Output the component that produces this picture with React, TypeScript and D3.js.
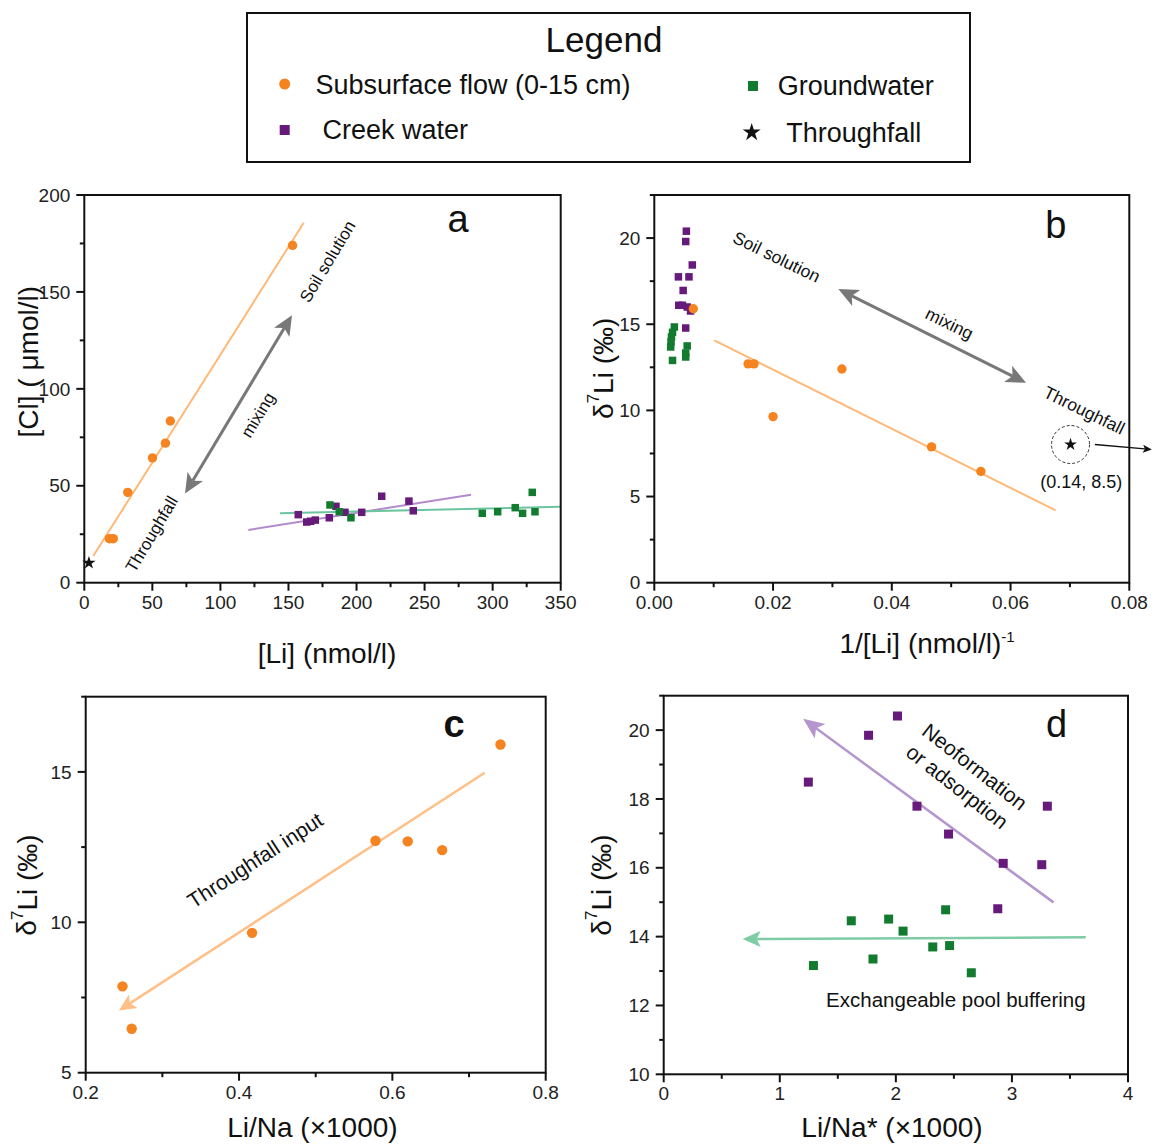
import React from 'react';
import * as d3 from 'd3';

const FONT = "'Liberation Sans', Arial, Helvetica, sans-serif";

// ---------------- colours ----------------
const ORANGE = '#F5831F';
const PURPLE = '#661A7A';
const GREEN = '#137B2F';
const ORANGE_LIGHT = '#FFB877';
const PURPLE_LIGHT = '#B38ACB';
const GREEN_LIGHT = '#6CC59F';
const GRAY = '#787878';

// ---------------- panel a data ----------------
const aSubLi = [153, 63.2, 59.6, 50.1, 31.9, 18.4, 21.3];
const aSubCl = [174, 83.4, 72, 64.4, 46.6, 22.7, 22.7];
const aCreekLi = [157.2, 163.4, 166.3, 169.7, 180, 184.9, 191.5, 203.8, 218.5, 238.5, 241.7];
const aCreekCl = [35.1, 31.3, 31.7, 32.3, 33.5, 39.4, 36.3, 36.3, 44.6, 42.1, 37.1];
const aGwLi = [180.5, 187.3, 195.9, 292.4, 303.7, 316.6, 322, 329.1, 331.1];
const aGwCl = [40.1, 36.6, 33.5, 35.8, 36.6, 38.7, 35.8, 46.6, 36.6];
const aTfLi = [3.4];
const aTfCl = [10.2];
const aSubFitX = [6.6, 161.2];
const aSubFitY = [13.8, 185.7];
const aCreekFitX = [120.5, 284.1];
const aCreekFitY = [27.2, 45.4];
const aGwFitX = [143.8, 349.5];
const aGwFitY = [35.8, 39.2];
const aMixX = [74, 152.6];
const aMixY = [46, 138];
const aXTicks = [0, 50, 100, 150, 200, 250, 300, 350];
const aYTicks = [0, 50, 100, 150, 200];

// ---------------- panel b data ----------------
const bSubX = [0.00657, 0.0158, 0.0168, 0.0316, 0.02, 0.0467, 0.055];
const bSubY = [15.9, 12.7, 12.7, 12.4, 9.64, 7.88, 6.46];
const bCreekX = [0.0054, 0.00529, 0.0064, 0.00406, 0.00584, 0.00486, 0.00412, 0.00473, 0.00554, 0.0061, 0.00529];
const bCreekY = [20.4, 19.8, 18.44, 17.75, 17.75, 16.96, 16.1, 16.1, 16.0, 15.77, 14.78];
const bGwX = [0.00338, 0.00307, 0.00289, 0.00282, 0.00276, 0.00307, 0.00554, 0.00529, 0.00529];
const bGwY = [14.84, 14.53, 14.26, 13.97, 13.68, 12.9, 13.74, 13.33, 13.1];
const bTfX = [0.0701];
const bTfY = [8.02];
const bSubFitX = [0.0101, 0.0676];
const bSubFitY = [14.06, 4.2];
const bMixX = [0.031, 0.0626];
const bMixY = [17.04, 11.6];
const bOutArrowX = [0.0742, 0.0838];
const bOutArrowY = [8.02, 7.73];
const bXTicks = [0, 0.02, 0.04, 0.06, 0.08];
const bYTicks = [0, 5, 10, 15, 20];

// ---------------- panel c data ----------------
const cX = [0.741, 0.578, 0.62, 0.665, 0.417, 0.248, 0.26];
const cY = [15.91, 12.71, 12.69, 12.4, 9.65, 7.87, 6.46];
const cArrowX = [0.7204, 0.2434];
const cArrowY = [14.97, 7.07];
const cXTicks = [0.2, 0.4, 0.6, 0.8];
const cYTicks = [5, 10, 15];

// ---------------- panel d data ----------------
const dCreekX = [1.246, 1.765, 2.014, 2.182, 2.454, 2.925, 3.257, 3.305, 2.878];
const dCreekY = [18.49, 19.85, 20.41, 17.79, 16.98, 16.13, 16.09, 17.79, 14.81];
const dGwX = [1.29, 1.616, 1.803, 1.938, 2.062, 2.318, 2.429, 2.463, 2.65];
const dGwY = [13.16, 14.46, 13.35, 14.51, 14.16, 13.7, 14.78, 13.74, 12.95];
const dPurpleArrowX = [3.358, 1.2016];
const dPurpleArrowY = [14.995, 20.33];
const dGreenArrowX = [3.636, 0.68];
const dGreenArrowY = [13.98, 13.93];
const dXTicks = [0, 1, 2, 3, 4];
const dYTicks = [10, 12, 14, 16, 18, 20];

type Frame = { l: number; r: number; t: number; b: number };

const FA: Frame = { l: 84.3, r: 560.7, t: 195, b: 582.7 };
const FB: Frame = { l: 654.3, r: 1129.3, t: 195, b: 582.7 };
const FC: Frame = { l: 85.7, r: 545.7, t: 696.7, b: 1072.7 };
const FD: Frame = { l: 663.7, r: 1128, t: 695.7, b: 1074.3 };

function minorTicks(start: number, stop: number, step: number, major: number[]) {
  return d3
    .range(0, Math.round((stop - start) / step) + 1)
    .map((i) => +(start + i * step).toFixed(6))
    .filter((v) => !major.some((m) => Math.abs(m - v) < step * 1e-3));
}

function arrowHead(x1: number, y1: number, x2: number, y2: number, L: number, w: number, ind: number) {
  const a = Math.atan2(y2 - y1, x2 - x1);
  const ux = Math.cos(a), uy = Math.sin(a);
  const px = -uy, py = ux;
  const bx = x2 - L * ux, by = y2 - L * uy;
  const nx = x2 - (L - ind) * ux, ny = y2 - (L - ind) * uy;
  return `M${x2},${y2}L${bx + w * px},${by + w * py}L${nx},${ny}L${bx - w * px},${by - w * py}Z`;
}

function shorten(x1: number, y1: number, x2: number, y2: number, d: number) {
  const len = Math.hypot(x2 - x1, y2 - y1);
  return [x2 - ((x2 - x1) / len) * d, y2 - ((y2 - y1) / len) * d];
}

function Arrow({ x1, y1, x2, y2, color, width, L, w, ind, double }: any) {
  const [ex, ey] = shorten(x1, y1, x2, y2, L - ind);
  const [sx, sy] = double ? shorten(x2, y2, x1, y1, L - ind) : [x1, y1];
  return (
    <g>
      <line x1={sx} y1={sy} x2={ex} y2={ey} stroke={color} strokeWidth={width} />
      <path d={arrowHead(x1, y1, x2, y2, L, w, ind)} fill={color} />
      {double && <path d={arrowHead(x2, y2, x1, y1, L, w, ind)} fill={color} />}
    </g>
  );
}

function Axes({ fr, xs, ys, xMajor, xMinor, yMajor, yMinor, xFmt, yFmt }: any) {
  return (
    <g fontFamily={FONT} fontSize={19} fill="#222">
      {xMajor.map((v: number) => (
        <g key={'xM' + v}>
          <line x1={xs(v)} x2={xs(v)} y1={fr.b} y2={fr.b + 8} stroke="#111" strokeWidth={2} />
          <text x={xs(v)} y={fr.b + 26} textAnchor="middle">{xFmt(v)}</text>
        </g>
      ))}
      {xMinor.map((v: number) => (
        <line key={'xm' + v} x1={xs(v)} x2={xs(v)} y1={fr.b} y2={fr.b + 4.5} stroke="#111" strokeWidth={2} />
      ))}
      {yMajor.map((v: number) => (
        <g key={'yM' + v}>
          <line x1={fr.l - 8} x2={fr.l} y1={ys(v)} y2={ys(v)} stroke="#111" strokeWidth={2} />
          <text x={fr.l - 14} y={ys(v)} dy="0.35em" textAnchor="end">{yFmt(v)}</text>
        </g>
      ))}
      {yMinor.map((v: number) => (
        <line key={'ym' + v} x1={fr.l - 4.5} x2={fr.l} y1={ys(v)} y2={ys(v)} stroke="#111" strokeWidth={2} />
      ))}
      <rect x={fr.l} y={fr.t} width={fr.r - fr.l} height={fr.b - fr.t} fill="none" stroke="#111" strokeWidth={2} />
    </g>
  );
}

function RotText({ x, y, angle, size, children, color = '#111' }: any) {
  return (
    <text
      transform={`translate(${x},${y}) rotate(${angle})`}
      textAnchor="middle"
      dominantBaseline="central"
      fontFamily={FONT}
      fontSize={size}
      fill={color}
    >
      {children}
    </text>
  );
}

const starPath = (size: number) => d3.symbol().type(d3.symbolStar).size(size)() as string;

function Squares({ xs, ys, X, Y, color, s }: any) {
  return (
    <g>
      {X.map((v: number, i: number) => (
        <rect key={i} x={xs(v) - s / 2} y={ys(Y[i]) - s / 2} width={s} height={s} fill={color} />
      ))}
    </g>
  );
}
function Circles({ xs, ys, X, Y, color, r }: any) {
  return (
    <g>
      {X.map((v: number, i: number) => (
        <circle key={i} cx={xs(v)} cy={ys(Y[i])} r={r} fill={color} />
      ))}
    </g>
  );
}

function PanelA() {
  const fr = FA;
  const xs = d3.scaleLinear().domain([0, 350]).range([fr.l, fr.r]);
  const ys = d3.scaleLinear().domain([0, 200]).range([fr.b, fr.t]);
  return (
    <g>
      <line x1={xs(aSubFitX[0])} y1={ys(aSubFitY[0])} x2={xs(aSubFitX[1])} y2={ys(aSubFitY[1])} stroke={ORANGE_LIGHT} strokeWidth={2} />
      <line x1={xs(aCreekFitX[0])} y1={ys(aCreekFitY[0])} x2={xs(aCreekFitX[1])} y2={ys(aCreekFitY[1])} stroke={PURPLE_LIGHT} strokeWidth={2} />
      <line x1={xs(aGwFitX[0])} y1={ys(aGwFitY[0])} x2={xs(aGwFitX[1])} y2={ys(aGwFitY[1])} stroke={GREEN_LIGHT} strokeWidth={2} />
      <Arrow x1={xs(aMixX[0])} y1={ys(aMixY[0])} x2={xs(aMixX[1])} y2={ys(aMixY[1])} color={GRAY} width={3} L={20} w={9} ind={5} double />
      <Circles xs={xs} ys={ys} X={aSubLi} Y={aSubCl} color={ORANGE} r={4.7} />
      <Squares xs={xs} ys={ys} X={aCreekLi} Y={aCreekCl} color={PURPLE} s={7.5} />
      <Squares xs={xs} ys={ys} X={aGwLi} Y={aGwCl} color={GREEN} s={7.5} />
      {aTfLi.map((v, i) => (
        <path key={i} d={starPath(55)} transform={`translate(${xs(v)},${ys(aTfCl[i])})`} fill="#111" />
      ))}
      <RotText x={xs(178.9)} y={ys(165.6)} angle={-59} size={17}>Soil solution</RotText>
      <RotText x={xs(127.8)} y={ys(86.4)} angle={-59} size={17}>mixing</RotText>
      <RotText x={xs(49.7)} y={ys(25)} angle={-59} size={17}>Throughfall</RotText>
      <Axes fr={fr} xs={xs} ys={ys} xMajor={aXTicks} xMinor={minorTicks(0, 350, 25, aXTicks)} yMajor={aYTicks} yMinor={minorTicks(0, 200, 25, aYTicks)} xFmt={(v: number) => String(v)} yFmt={(v: number) => String(v)} />
      <text x={fr.r - 102.7} y={fr.t + 36.7} textAnchor="middle" fontFamily={FONT} fontSize={38} fill="#111">a</text>
      <text x={327} y={663} textAnchor="middle" fontFamily={FONT} fontSize={28} fill="#111">[Li] (nmol/l)</text>
      <RotText x={28} y={361.7} angle={-90} size={28}>[Cl] ( μmol/l)</RotText>
    </g>
  );
}

function PanelB() {
  const fr = FB;
  const xs = d3.scaleLinear().domain([0, 0.08]).range([fr.l, fr.r]);
  const ys = d3.scaleLinear().domain([0, 22.5]).range([fr.b, fr.t]);
  return (
    <g>
      <line x1={xs(bSubFitX[0])} y1={ys(bSubFitY[0])} x2={xs(bSubFitX[1])} y2={ys(bSubFitY[1])} stroke={ORANGE_LIGHT} strokeWidth={2} />
      <Arrow x1={xs(bMixX[0])} y1={ys(bMixY[0])} x2={xs(bMixX[1])} y2={ys(bMixY[1])} color={GRAY} width={3} L={20} w={9} ind={5} double />
      <Squares xs={xs} ys={ys} X={bCreekX} Y={bCreekY} color={PURPLE} s={7.5} />
      <Squares xs={xs} ys={ys} X={bGwX} Y={bGwY} color={GREEN} s={7.5} />
      <Circles xs={xs} ys={ys} X={bSubX} Y={bSubY} color={ORANGE} r={4.7} />
      {bTfX.map((v, i) => (
        <g key={i}>
          <circle cx={xs(v)} cy={ys(bTfY[i])} r={19} fill="none" stroke="#333" strokeWidth={1} strokeDasharray="3,2" />
          <path d={starPath(50)} transform={`translate(${xs(v)},${ys(bTfY[i])})`} fill="#111" />
        </g>
      ))}
      <Arrow x1={xs(bOutArrowX[0])} y1={ys(bOutArrowY[0])} x2={xs(bOutArrowX[1])} y2={ys(bOutArrowY[1])} color="#111" width={1.3} L={9} w={4} ind={2} />
      <RotText x={xs(0.0206)} y={ys(18.9)} angle={26} size={17.5}>Soil solution</RotText>
      <RotText x={xs(0.0497)} y={ys(15.04)} angle={26} size={17.5}>mixing</RotText>
      <RotText x={xs(0.0724)} y={ys(10.0)} angle={26} size={17.5}>Throughfall</RotText>
      <text x={xs(0.0719)} y={ys(5.89)} dy="0.35em" textAnchor="middle" fontFamily={FONT} fontSize={18} fill="#111">(0.14, 8.5)</text>
      <Axes fr={fr} xs={xs} ys={ys} xMajor={bXTicks} xMinor={minorTicks(0, 0.08, 0.01, bXTicks)} yMajor={bYTicks} yMinor={minorTicks(0, 22.5, 2.5, bYTicks)} xFmt={d3.format('.2f')} yFmt={(v: number) => String(v)} />
      <text x={fr.r - 73.5} y={fr.t + 43} textAnchor="middle" fontFamily={FONT} fontSize={38} fill="#111">b</text>
      <text x={927} y={653.3} textAnchor="middle" fontFamily={FONT} fontSize={28} fill="#111">
        1/[Li] (nmol/l)<tspan dy={-11} fontSize={15}>-1</tspan>
      </text>
      <RotText x={603} y={368.3} angle={-90} size={28}>
        δ<tspan dy={-10} fontSize={17}>7</tspan><tspan dy={10}>Li (‰)</tspan>
      </RotText>
    </g>
  );
}

function PanelC() {
  const fr = FC;
  const xs = d3.scaleLinear().domain([0.2, 0.8]).range([fr.l, fr.r]);
  const ys = d3.scaleLinear().domain([5, 17.5]).range([fr.b, fr.t]);
  return (
    <g>
      <Arrow x1={xs(cArrowX[0])} y1={ys(cArrowY[0])} x2={xs(cArrowX[1])} y2={ys(cArrowY[1])} color="#FFBF86" width={2.5} L={17} w={8} ind={4} />
      <Circles xs={xs} ys={ys} X={cX} Y={cY} color={ORANGE} r={5.2} />
      <RotText x={xs(0.4209)} y={ys(12.07)} angle={-33} size={21}>Throughfall input</RotText>
      <Axes fr={fr} xs={xs} ys={ys} xMajor={cXTicks} xMinor={minorTicks(0.2, 0.8, 0.1, cXTicks)} yMajor={cYTicks} yMinor={minorTicks(5, 17.5, 2.5, cYTicks)} xFmt={d3.format('.1f')} yFmt={(v: number) => String(v)} />
      <text x={fr.r - 91.7} y={fr.t + 40} textAnchor="middle" fontFamily={FONT} fontSize={38} fontWeight={600} fill="#111">c</text>
      <text x={312.4} y={1136.7} textAnchor="middle" fontFamily={FONT} fontSize={28} fill="#111">Li/Na (×1000)</text>
      <RotText x={26.7} y={885} angle={-90} size={28}>
        δ<tspan dy={-10} fontSize={17}>7</tspan><tspan dy={10}>Li (‰)</tspan>
      </RotText>
    </g>
  );
}

function PanelD() {
  const fr = FD;
  const xs = d3.scaleLinear().domain([0, 4]).range([fr.l, fr.r]);
  const ys = d3.scaleLinear().domain([10, 21]).range([fr.b, fr.t]);
  return (
    <g>
      <Arrow x1={xs(dPurpleArrowX[0])} y1={ys(dPurpleArrowY[0])} x2={xs(dPurpleArrowX[1])} y2={ys(dPurpleArrowY[1])} color="#B596CC" width={2.5} L={21} w={9} ind={5} />
      <Arrow x1={xs(dGreenArrowX[0])} y1={ys(dGreenArrowY[0])} x2={xs(dGreenArrowX[1])} y2={ys(dGreenArrowY[1])} color="#7FCBA6" width={2.5} L={18} w={8} ind={4} />
      <Squares xs={xs} ys={ys} X={dCreekX} Y={dCreekY} color={PURPLE} s={9} />
      <Squares xs={xs} ys={ys} X={dGwX} Y={dGwY} color={GREEN} s={9} />
      <RotText x={xs(2.68)} y={ys(18.94)} angle={38} size={21}>Neoformation</RotText>
      <RotText x={xs(2.53)} y={ys(18.36)} angle={38} size={21}>or adsorption</RotText>
      <text x={xs(2.517)} y={ys(12.17)} dy="0.35em" textAnchor="middle" fontFamily={FONT} fontSize={20.5} fill="#111">Exchangeable pool buffering</text>
      <Axes fr={fr} xs={xs} ys={ys} xMajor={dXTicks} xMinor={minorTicks(0, 4, 0.5, dXTicks)} yMajor={dYTicks} yMinor={minorTicks(10, 21, 1, dYTicks)} xFmt={(v: number) => String(v)} yFmt={(v: number) => String(v)} />
      <text x={fr.r - 71.5} y={fr.t + 41.6} textAnchor="middle" fontFamily={FONT} fontSize={38} fill="#111">d</text>
      <text x={892} y={1136.7} textAnchor="middle" fontFamily={FONT} fontSize={28} fill="#111">Li/Na* (×1000)</text>
      <RotText x={601} y={885} angle={-90} size={28}>
        δ<tspan dy={-10} fontSize={17}>7</tspan><tspan dy={10}>Li (‰)</tspan>
      </RotText>
    </g>
  );
}

function Legend() {
  return (
    <g fontFamily={FONT} fill="#111">
      <rect x={247} y={13} width={723} height={149} fill="none" stroke="#111" strokeWidth={2} />
      <text x={604} y={51.5} textAnchor="middle" fontSize={35}>Legend</text>
      <circle cx={284.7} cy={84} r={5.5} fill={ORANGE} />
      <text x={315.4} y={94} fontSize={27}>Subsurface flow (0-15 cm)</text>
      <rect x={284.7 - 5} y={130 - 5} width={10} height={10} fill={PURPLE} />
      <text x={322.5} y={139} fontSize={27}>Creek water</text>
      <rect x={753 - 5} y={86 - 5} width={10} height={10} fill={GREEN} />
      <text x={777.7} y={95} fontSize={27}>Groundwater</text>
      <path d={starPath(100)} transform="translate(751.7,132.5)" fill="#111" />
      <text x={786.2} y={142} fontSize={27}>Throughfall</text>
    </g>
  );
}

export default function App() {
  return (
    <svg
      width={1154}
      height={1144}
      viewBox="0 0 1154 1144"
      style={{ position: 'absolute', left: 0, top: 0, background: '#fff' }}
    >
      <rect x={0} y={0} width={1154} height={1144} fill="#fff" />
      <Legend />
      <PanelA />
      <PanelB />
      <PanelC />
      <PanelD />
    </svg>
  );
}
